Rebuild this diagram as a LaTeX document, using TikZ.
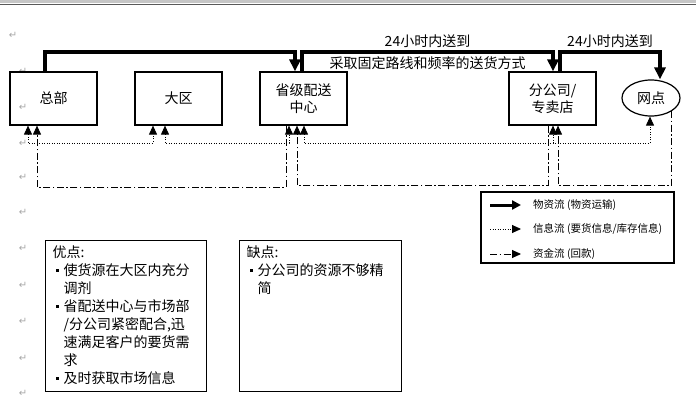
\documentclass[tikz,border=0pt]{standalone}
\usepackage{fontspec}
\setmainfont{Noto Sans CJK SC}
\newfontfamily\symfont{DejaVu Sans}
\usetikzlibrary{arrows.meta, positioning, shapes.geometric}

\newcommand{\bul}{\hspace*{3pt}\makebox[8pt][l]{\rule[3.5pt]{3pt}{3pt}}}
\newcommand{\ind}{\hspace*{11pt}}

\begin{document}
\begin{tikzpicture}[
    x=1pt, y=-1pt,
    >={Triangle[length=9pt, width=8pt]},
    box/.style={draw, line width=1.2pt, minimum width=87pt, minimum height=53pt, align=center, font=\fontsize{14}{17}\selectfont},
    goods/.style={line width=3.5pt, ->, >={Triangle[length=12pt, width=11pt]}},
    info/.style={line width=.9pt, dash pattern=on 1pt off 1.5pt},
    cash/.style={line width=.9pt, dash pattern=on 7pt off 2.5pt on 1.5pt off 2.5pt},
    lbl/.style={font=\fontsize{14}{17}\selectfont, inner sep=3pt},
    note/.style={draw, line width=1.2pt, anchor=north west, inner xsep=7pt, inner ysep=5pt},
    keytext/.style={anchor=west, inner sep=0pt, font=\fontsize{10.5}{12}\selectfont},
    ret/.style={text=gray!70, inner sep=0pt, font=\symfont\fontsize{10}{10}\selectfont}
]
\useasboundingbox (0,0) rectangle (696,404);

% window edge
\fill[gray!45] (0,0) rectangle (696,3);
\draw[black!65, line width=1pt] (0,4.5) -- (696,4.5);

% paragraph marks
\node[ret] (ret-0) at (13,35) {↵};
\foreach \y [count=\i] in {71,107,143,177,212,248,285,321,358,393}
    \node[ret] (ret-\i) at (23,\y) {↵};

% units
\node[box] (hq) at (53.5,98.5) {总部};
\node[box] (region) at (178.5,98.5) {大区};
\node[box] (prov) at (303.5,98.5) {省级配送\\中心};
\node[box] (branch) at (552.5,98.5) {分公司/\\专卖店};
\node[draw, line width=1.2pt, ellipse, inner sep=0pt, minimum width=58pt, minimum height=36pt,
      font=\fontsize{14}{17}\selectfont] (outlet) at (651,98) {网点};

% goods flow
\coordinate (g1) at (45,52);
\coordinate (g2) at (295,52);
\coordinate (g3) at (302,52);
\coordinate (g4) at (553,52);
\coordinate (g5) at (560,52);
\coordinate (g6) at (660,52);
\draw[goods] (hq.north -| g1) -- (g1) -- (g2) -- (prov.north -| g2);
\draw[goods] (prov.north -| g3) -- (g3)
    -- node[lbl, above] {24小时内送到} node[lbl, below] {采取固定路线和频率的送货方式} (g4)
    -- (branch.north -| g4);
\draw[goods] (branch.north -| g5) -- (g5) -- node[lbl, above] {24小时内送到} (g6) -- (outlet.north -| g6);

% information flow
\coordinate (i1) at (28,143);
\coordinate (i2) at (153,143);
\coordinate (i3) at (165,143);
\coordinate (i4) at (289,143);
\coordinate (i5) at (304,143);
\coordinate (i6) at (650,143);
\coordinate (i7) at (553,143);
\draw[info, <->] (hq.south -| i1) -- (i1) -- (i2) -- (region.south -| i2);
\draw[info, <->] (region.south -| i3) -- (i3) -- (i4) -- (prov.south -| i4);
\draw[info, <->] (prov.south -| i5) -- (i5) -- (i6) -- (outlet.south -| i6);
\draw[info, ->] (i7) -- (branch.south -| i7);

% cash flow
\coordinate (c1) at (286,187);
\coordinate (c2) at (37,187);
\coordinate (c3) at (548,185);
\coordinate (c4) at (297,185);
\coordinate (c5) at (558,185);
\draw[cash, ->] (prov.south -| c1) -- (c1) -- (c2) -- (hq.south -| c2);
\draw[cash, ->] (branch.south -| c3) -- (c3) -- (c4) -- (prov.south -| c4);
\draw[cash, ->] (outlet.south east) |- (c5) -- (branch.south -| c5);

% legend
\node[draw, line width=1.2pt, minimum width=193pt, minimum height=71pt] (legend) at (577.5,227.5) {};
\coordinate (k1s) at (490,205);
\coordinate (k1e) at (521,205);
\coordinate (k2s) at (490,229);
\coordinate (k2e) at (521,229);
\coordinate (k3s) at (490,254);
\coordinate (k3e) at (521,254);
\draw[line width=3pt, -{Triangle[length=9pt, width=9pt]}] (k1s) -- (k1e);
\draw[info, ->] (k2s) -- (k2e);
\draw[cash, ->] (k3s) -- (k3e);
\node[keytext] (key1) at (533,205) {物资流 (物资运输)};
\node[keytext] (key2) at (533,229) {信息流 (要货信息/库存信息)};
\node[keytext] (key3) at (533,254) {资金流 (回款)};

% pros and cons
\node[note] (pros) at (45,240) {\parbox[b][141pt][t]{147pt}{\fontsize{14}{18}\selectfont
    优点:\\
    \bul 使货源在大区内充分\\
    \ind 调剂\\
    \bul 省配送中心与市场部\\
    \ind /分公司紧密配合,迅\\
    \ind 速满足客户的要货需\\
    \ind 求\\
    \bul 及时获取市场信息}};
\node[note] (cons) at (239,240) {\parbox[b][141pt][t]{148pt}{\fontsize{14}{18}\selectfont
    缺点:\\
    \bul 分公司的资源不够精\\
    \ind 简}};
\end{tikzpicture}
\end{document}
